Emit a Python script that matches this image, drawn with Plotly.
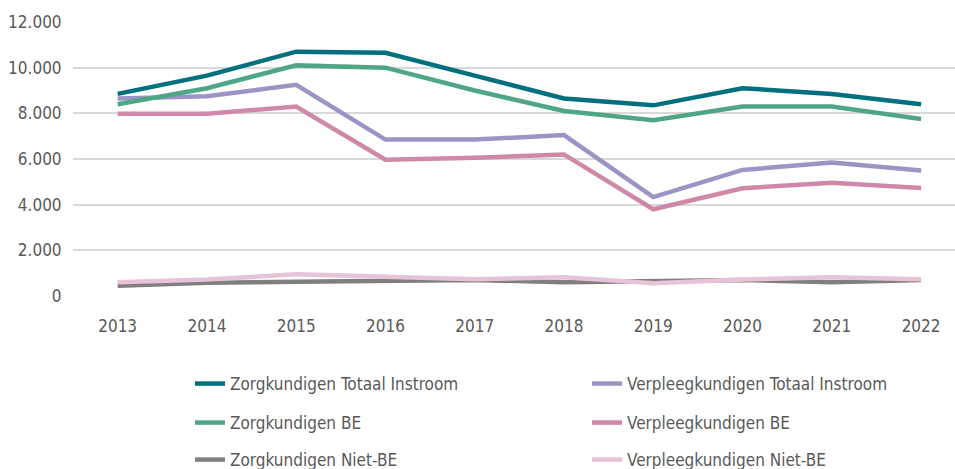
import plotly.graph_objects as go

years = ["2013", "2014", "2015", "2016", "2017", "2018", "2019", "2020", "2021", "2022"]
zorg_totaal = [8850, 9650, 10700, 10650, 9650, 8650, 8350, 9100, 8850, 8400]
zorg_be = [8400, 9100, 10100, 10000, 9000, 8100, 7700, 8300, 8300, 7750]
zorg_niet_be = [450, 580, 620, 680, 700, 600, 640, 700, 600, 700]
verpl_totaal = [8650, 8750, 9250, 6850, 6850, 7050, 4330, 5520, 5850, 5500]
verpl_be = [7980, 7980, 8300, 5970, 6050, 6200, 3800, 4720, 4960, 4730]
verpl_niet_be = [600, 720, 950, 820, 730, 820, 560, 720, 820, 730]
y_ticks = [0, 2000, 4000, 6000, 8000, 10000, 12000]
y_tick_text = ["0", "2.000", "4.000", "6.000", "8.000", "10.000", "12.000"]

FONT = "DejaVu Sans Condensed, Liberation Sans Narrow, Roboto Condensed, sans-serif"
TXT = "#595959"
FS = 17

series = [
    ("Zorgkundigen Totaal Instroom", zorg_totaal, "#00707F", "legend"),
    ("Verpleegkundigen Totaal Instroom", verpl_totaal, "#9B95C5", "legend"),
    ("Zorgkundigen BE", zorg_be, "#4FA685", "legend2"),
    ("Verpleegkundigen BE", verpl_be, "#D088A8", "legend2"),
    ("Zorgkundigen Niet-BE", zorg_niet_be, "#7F7F7F", "legend3"),
    ("Verpleegkundigen Niet-BE", verpl_niet_be, "#E8C3D8", "legend3"),
]

fig = go.Figure()
for name, vals, col, lg in series:
    fig.add_trace(go.Scatter(
        x=years, y=vals, name=name, mode="lines",
        line=dict(color=col, width=4.5), legend=lg,
    ))

W, H = 955, 469
ml, mr, mt, mb = 73, 0, 22, 173
ph = H - mt - mb
pw = W - ml - mr

def leg(ypix):
    return dict(
        orientation="h", x=(190 - ml) / pw, xanchor="left",
        y=(H - mb - ypix) / ph, yanchor="middle",
        entrywidth=352, entrywidthmode="pixels",
        font=dict(family=FONT, size=FS, color=TXT),
        bgcolor="rgba(0,0,0,0)",
    )

fig.update_layout(
    width=W, height=H,
    margin=dict(l=ml, r=mr, t=mt, b=mb, autoexpand=False),
    paper_bgcolor="white", plot_bgcolor="white",
    font=dict(family=FONT, size=FS, color=TXT),
    showlegend=True,
    legend=leg(384),
    legend2=leg(423),
    legend3=leg(460),
    xaxis=dict(
        type="category", range=[-0.5, 9.38], showgrid=False, zeroline=False,
        showline=False, ticks="outside", ticklen=15, tickcolor="rgba(0,0,0,0)",
        tickfont=dict(family=FONT, size=FS, color=TXT), automargin=False,
    ),
    yaxis=dict(
        range=[0, 12000], tickvals=y_ticks, ticktext=y_tick_text,
        showgrid=True, gridcolor="#D9D9D9", gridwidth=2,
        zeroline=False, showline=False,
        ticks="outside", ticklen=7, tickcolor="rgba(0,0,0,0)",
        tickfont=dict(family=FONT, size=FS, color=TXT), automargin=False,
    ),
)

fig.write_html("out.html", config={"displayModeBar": False},
               post_script="document.body.style.margin='0';")
